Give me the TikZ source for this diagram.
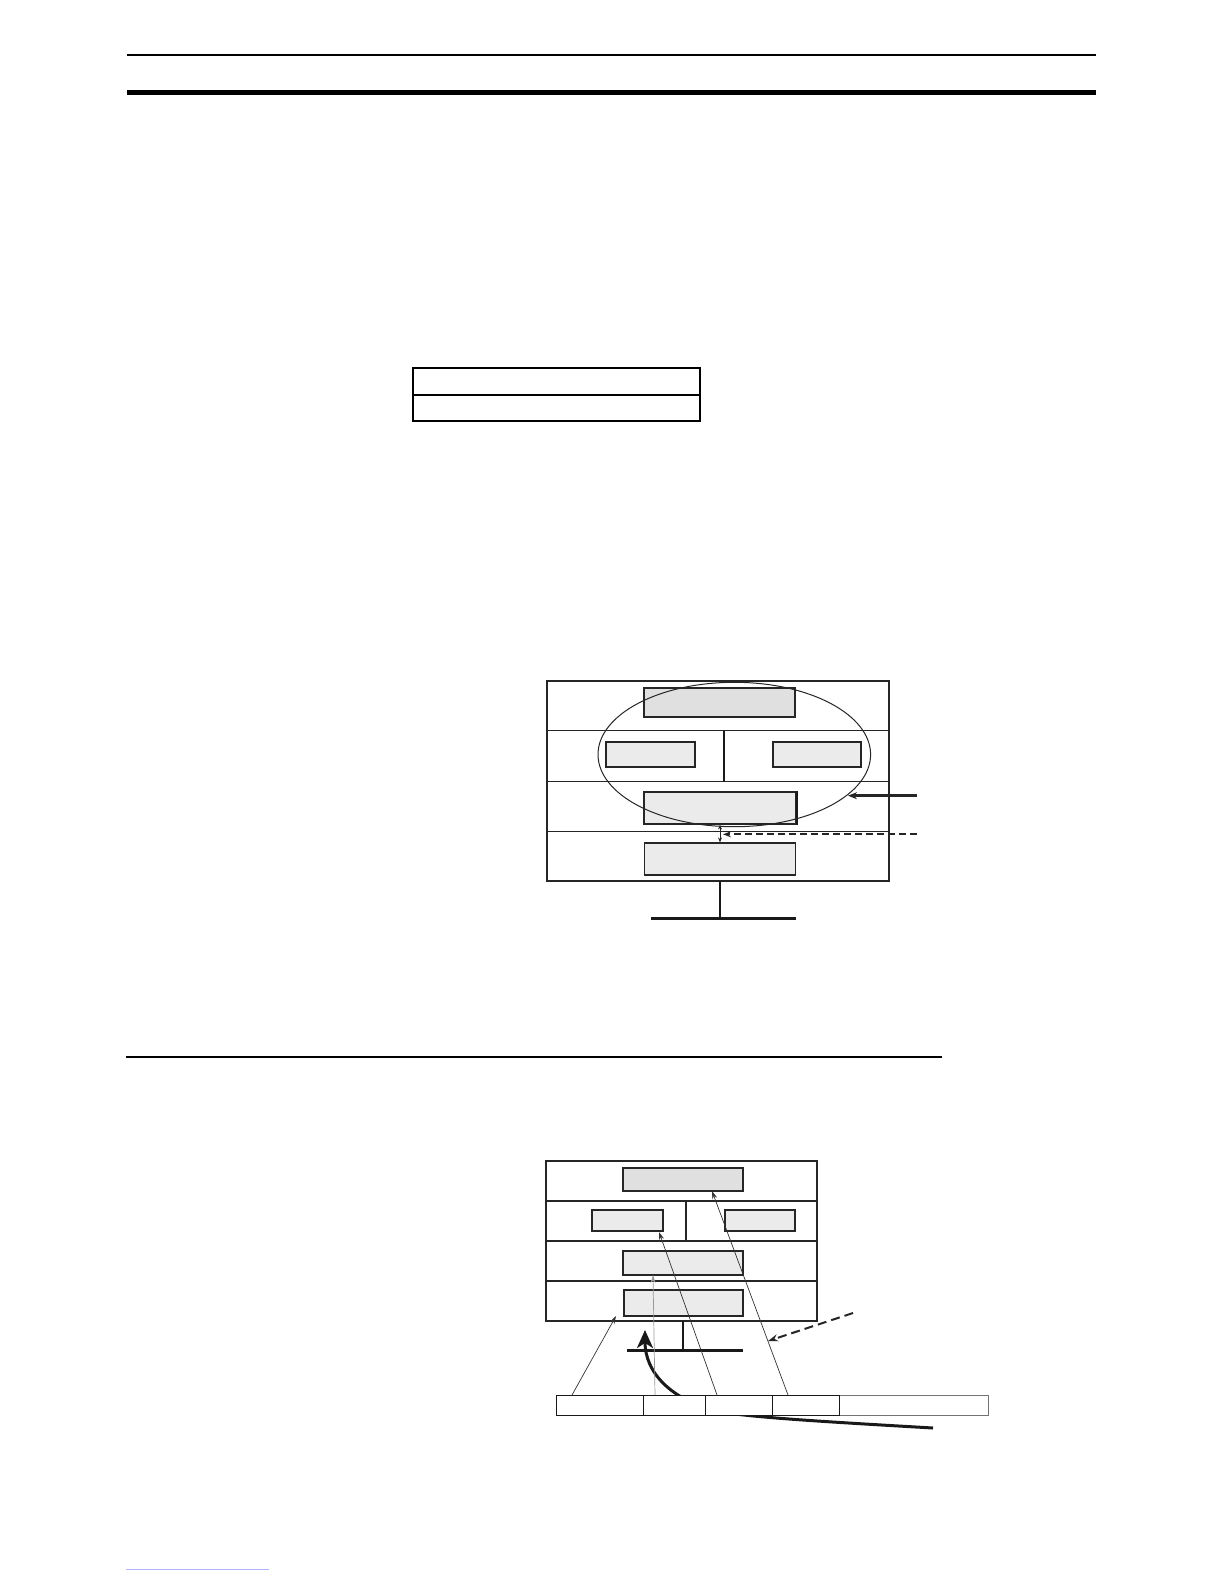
\documentclass[tikz,border=0pt]{standalone}
\usetikzlibrary{arrows.meta,shapes.geometric}
\begin{document}
\begin{tikzpicture}[x=1pt,y=-1pt,
  frame/.style={draw=black!85,line width=1.3pt},
  gbox/.style={draw=black!85,line width=1.1pt,fill=black!8,inner sep=0pt,minimum width=#1},
  gboxd/.style={draw=black!85,line width=1.1pt,fill=black!12,inner sep=0pt,minimum width=#1},
  cell/.style={draw=black!90,line width=1.1pt,fill=white,inner sep=0pt,minimum height=20pt,anchor=north west},
  thin/.style={draw=black!80,line width=0.7pt,-{Stealth[length=8pt,width=5pt]}},
  bar/.style={line width=3pt,draw=black!90},
  stem/.style={line width=2.2pt,draw=black!90}]
\useasboundingbox (0,0) rectangle (1224,1584);
% header rules
\coordinate (h1a) at (127,55); \coordinate (h1b) at (1096,55);
\coordinate (h2a) at (127,92.5); \coordinate (h2b) at (1096,92.5);
\draw[line width=2pt] (h1a) -- (h1b);
\draw[line width=4.7pt] (h2a) -- (h2b);
% small table
\coordinate (t1) at (413,368); \coordinate (t2) at (700,421);
\coordinate (tm1) at (413,395); \coordinate (tm2) at (700,395);
\draw[line width=1.6pt] (t1) rectangle (t2);
\draw[line width=1.6pt] (tm1) -- (tm2);
% ===== figure 1 =====
\coordinate (A1) at (547,681); \coordinate (A2) at (889,881);
\draw[frame] (A1) rectangle (A2);
\foreach \yy [count=\i] in {730.5,781.5,831.5}{
  \coordinate (ra\i) at (547,\yy); \coordinate (rb\i) at (889,\yy);
  \draw[frame] (ra\i) -- (rb\i);}
\coordinate (dv1) at (724,730.5); \coordinate (dv2) at (724,781.5);
\draw[stem,line width=2pt] (dv1) -- (dv2);
\node[gboxd=151pt,minimum height=29pt] (Ftop) at (719.5,702.5) {};
\node[gbox=89pt,minimum height=25pt] (Fl) at (650.5,754.5) {};
\node[gbox=88pt,minimum height=25pt] (Fr) at (817,754.5) {};
\node[gbox=152pt,minimum height=32pt] (F3) at (720,808) {};
\draw[line width=2pt,black!90] (F3.north east) -- (F3.south east);
\node[gbox=151pt,minimum height=32pt] (F4) at (720,859) {};
\node[ellipse,draw=black!85,line width=1pt,minimum width=272.6pt,minimum height=144.4pt,inner sep=0pt] (E) at (734.3,754.5) {};
\draw[line width=0.9pt,black!85,{Stealth[length=5pt,width=4pt]}-{Stealth[length=5pt,width=4pt]}] (F3.south) -- (F4.north);
\coordinate (sa) at (917,795.7); \coordinate (sb) at (848,795.7);
\draw[line width=3pt,black!85,-{Stealth[length=9pt,width=7pt]}] (sa) -- (sb);
\coordinate (da) at (917,834.3); \coordinate (db) at (723,834.3);
\draw[line width=1.8pt,black!85,dash pattern=on 7pt off 4pt,-{Stealth[length=8pt,width=6pt]}] (da) -- (db);
\coordinate (st1) at (720,881); \coordinate (st2) at (720,918);
\draw[stem] (st1) -- (st2);
\coordinate (b1) at (651,918.5); \coordinate (b2) at (796,918.5);
\draw[bar] (b1) -- (b2);
% mid rule
\coordinate (m1) at (126,1057); \coordinate (m2) at (942,1057);
\draw[line width=1.5pt] (m1) -- (m2);
% ===== figure 2 =====
\coordinate (B1) at (546,1161); \coordinate (B2) at (817,1321);
\draw[frame] (B1) rectangle (B2);
\foreach \yy [count=\i] in {1201,1241,1281}{
  \coordinate (qa\i) at (546,\yy); \coordinate (qb\i) at (817,\yy);
  \draw[frame] (qa\i) -- (qb\i);}
\coordinate (dw1) at (686,1201); \coordinate (dw2) at (686,1241);
\draw[frame] (dw1) -- (dw2);
\node[gboxd=120pt,minimum height=23pt] (Gtop) at (683,1179.5) {};
\node[gbox=71pt,minimum height=21pt] (Gl) at (627.5,1220.5) {};
\node[gbox=70pt,minimum height=21pt] (Gr) at (760,1220.5) {};
\node[gbox=120pt,minimum height=24pt] (G3) at (683,1263) {};
\node[gbox=119pt,minimum height=26pt] (G4) at (683.5,1303) {};
\coordinate (gs1) at (683,1321); \coordinate (gs2) at (683,1350);
\draw[stem] (gs1) -- (gs2);
\coordinate (gb1) at (627,1350); \coordinate (gb2) at (743,1350);
\draw[bar] (gb1) -- (gb2);
% thick curved arrow (passes behind strip)
\coordinate (cv1) at (933,1428); \coordinate (cvm) at (720,1412); \coordinate (cv2) at (645,1330);
\draw[line width=3pt,black!90,-{Stealth[length=18pt,width=16pt,inset=5pt]}] (cv1) .. controls (830,1422) and (760,1418) .. (cvm) .. controls (670,1400) and (645,1372) .. (cv2);
% strip
\node[cell,draw=black!55,line width=1pt,minimum width=149pt] (c5) at (839,1395) {};
\node[cell,minimum width=87pt] (c1) at (556,1395) {};
\node[cell,minimum width=62pt] (c2) at (643,1395) {};
\node[cell,minimum width=67pt] (c3) at (705,1395) {};
\node[cell,minimum width=67pt] (c4) at (772,1395) {};
% thin arrows
\coordinate (p1) at (572,1395); \coordinate (q1) at (616,1316);
\draw[thin] (p1) -- (q1);
\coordinate (p2) at (655,1395); \coordinate (q2) at (653,1275);
\draw[thin,draw=black!40] (p2) -- (q2);
\coordinate (p3) at (717,1395); \coordinate (q3) at (659,1232);
\draw[thin] (p3) -- (q3);
\coordinate (p4) at (788,1395); \coordinate (q4) at (712,1191);
\draw[thin] (p4) -- (q4);
\coordinate (ea) at (853,1313); \coordinate (eb) at (768,1341);
\draw[line width=2pt,black!85,dash pattern=on 9pt off 5pt,-{Stealth[length=10pt,width=7pt]}] (ea) -- (eb);
% faint link line at page foot
\coordinate (l1) at (126,1569); \coordinate (l2) at (269,1569);
\draw[line width=0.8pt,blue!30] (l1) -- (l2);
\end{tikzpicture}
\end{document}
